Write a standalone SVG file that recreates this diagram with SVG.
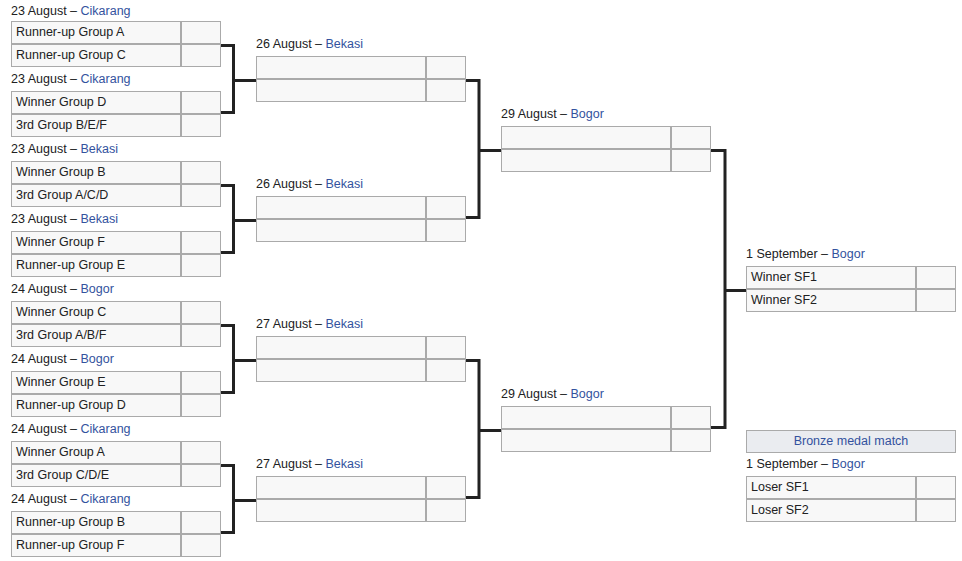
<svg xmlns="http://www.w3.org/2000/svg" width="962" height="561" viewBox="0 0 962 561">
<style>
text{font-family:"Liberation Sans",Arial,sans-serif;font-size:12.5px;fill:#202122}
.c{fill:#f8f8f8;stroke:#aaa;stroke-width:1}
.h{fill:#eaecf0;stroke:#aaa;stroke-width:1}
.a{fill:#33529e}
.cn{fill:none;stroke:#222;stroke-width:3;stroke-linejoin:miter;stroke-linecap:butt}
</style>
<rect width="962" height="561" fill="#fff"/>
<g id="connectors">
<path class="cn" d="M221,45.5H233.5V112.5H221M233.5,80.5H256"/>
<path class="cn" d="M221,185.5H233.5V252.5H221M233.5,220.5H256"/>
<path class="cn" d="M221,325.5H233.5V392.5H221M233.5,360.5H256"/>
<path class="cn" d="M221,465.5H233.5V532.5H221M233.5,500.5H256"/>
<path class="cn" d="M466,80.5H479V217.5H466M479,150.5H501"/>
<path class="cn" d="M466,360.5H479V497.5H466M479,430.5H501"/>
<path class="cn" d="M711,150.5H725V427.5H711M725,290.5H746"/>
</g>
<g id="r1m1">
<text x="11" y="14.5">23 August – <tspan class="a">Cikarang</tspan></text>
<rect class="c" x="11.5" y="21.5" width="169" height="22"/><rect class="c" x="181.5" y="21.5" width="39" height="22"/>
<rect class="c" x="11.5" y="44.5" width="169" height="22"/><rect class="c" x="181.5" y="44.5" width="39" height="22"/>
<text x="16" y="36">Runner-up Group A</text><text x="16" y="59">Runner-up Group C</text>
</g>
<g id="r1m2">
<text x="11" y="82.5">23 August – <tspan class="a">Cikarang</tspan></text>
<rect class="c" x="11.5" y="91.5" width="169" height="22"/><rect class="c" x="181.5" y="91.5" width="39" height="22"/>
<rect class="c" x="11.5" y="114.5" width="169" height="22"/><rect class="c" x="181.5" y="114.5" width="39" height="22"/>
<text x="16" y="106">Winner Group D</text><text x="16" y="129">3rd Group B/E/F</text>
</g>
<g id="r1m3">
<text x="11" y="152.5">23 August – <tspan class="a">Bekasi</tspan></text>
<rect class="c" x="11.5" y="161.5" width="169" height="22"/><rect class="c" x="181.5" y="161.5" width="39" height="22"/>
<rect class="c" x="11.5" y="184.5" width="169" height="22"/><rect class="c" x="181.5" y="184.5" width="39" height="22"/>
<text x="16" y="176">Winner Group B</text><text x="16" y="199">3rd Group A/C/D</text>
</g>
<g id="r1m4">
<text x="11" y="222.5">23 August – <tspan class="a">Bekasi</tspan></text>
<rect class="c" x="11.5" y="231.5" width="169" height="22"/><rect class="c" x="181.5" y="231.5" width="39" height="22"/>
<rect class="c" x="11.5" y="254.5" width="169" height="22"/><rect class="c" x="181.5" y="254.5" width="39" height="22"/>
<text x="16" y="246">Winner Group F</text><text x="16" y="269">Runner-up Group E</text>
</g>
<g id="r1m5">
<text x="11" y="292.5">24 August – <tspan class="a">Bogor</tspan></text>
<rect class="c" x="11.5" y="301.5" width="169" height="22"/><rect class="c" x="181.5" y="301.5" width="39" height="22"/>
<rect class="c" x="11.5" y="324.5" width="169" height="22"/><rect class="c" x="181.5" y="324.5" width="39" height="22"/>
<text x="16" y="316">Winner Group C</text><text x="16" y="339">3rd Group A/B/F</text>
</g>
<g id="r1m6">
<text x="11" y="362.5">24 August – <tspan class="a">Bogor</tspan></text>
<rect class="c" x="11.5" y="371.5" width="169" height="22"/><rect class="c" x="181.5" y="371.5" width="39" height="22"/>
<rect class="c" x="11.5" y="394.5" width="169" height="22"/><rect class="c" x="181.5" y="394.5" width="39" height="22"/>
<text x="16" y="386">Winner Group E</text><text x="16" y="409">Runner-up Group D</text>
</g>
<g id="r1m7">
<text x="11" y="432.5">24 August – <tspan class="a">Cikarang</tspan></text>
<rect class="c" x="11.5" y="441.5" width="169" height="22"/><rect class="c" x="181.5" y="441.5" width="39" height="22"/>
<rect class="c" x="11.5" y="464.5" width="169" height="22"/><rect class="c" x="181.5" y="464.5" width="39" height="22"/>
<text x="16" y="456">Winner Group A</text><text x="16" y="479">3rd Group C/D/E</text>
</g>
<g id="r1m8">
<text x="11" y="502.5">24 August – <tspan class="a">Cikarang</tspan></text>
<rect class="c" x="11.5" y="511.5" width="169" height="22"/><rect class="c" x="181.5" y="511.5" width="39" height="22"/>
<rect class="c" x="11.5" y="534.5" width="169" height="22"/><rect class="c" x="181.5" y="534.5" width="39" height="22"/>
<text x="16" y="526">Runner-up Group B</text><text x="16" y="549">Runner-up Group F</text>
</g>
<g id="r2m1">
<text x="256" y="47.5">26 August – <tspan class="a">Bekasi</tspan></text>
<rect class="c" x="256.5" y="56.5" width="169" height="22"/><rect class="c" x="426.5" y="56.5" width="39" height="22"/>
<rect class="c" x="256.5" y="79.5" width="169" height="22"/><rect class="c" x="426.5" y="79.5" width="39" height="22"/>
</g>
<g id="r2m2">
<text x="256" y="187.5">26 August – <tspan class="a">Bekasi</tspan></text>
<rect class="c" x="256.5" y="196.5" width="169" height="22"/><rect class="c" x="426.5" y="196.5" width="39" height="22"/>
<rect class="c" x="256.5" y="219.5" width="169" height="22"/><rect class="c" x="426.5" y="219.5" width="39" height="22"/>
</g>
<g id="r2m3">
<text x="256" y="327.5">27 August – <tspan class="a">Bekasi</tspan></text>
<rect class="c" x="256.5" y="336.5" width="169" height="22"/><rect class="c" x="426.5" y="336.5" width="39" height="22"/>
<rect class="c" x="256.5" y="359.5" width="169" height="22"/><rect class="c" x="426.5" y="359.5" width="39" height="22"/>
</g>
<g id="r2m4">
<text x="256" y="467.5">27 August – <tspan class="a">Bekasi</tspan></text>
<rect class="c" x="256.5" y="476.5" width="169" height="22"/><rect class="c" x="426.5" y="476.5" width="39" height="22"/>
<rect class="c" x="256.5" y="499.5" width="169" height="22"/><rect class="c" x="426.5" y="499.5" width="39" height="22"/>
</g>
<g id="sf1">
<text x="501" y="117.5">29 August – <tspan class="a">Bogor</tspan></text>
<rect class="c" x="501.5" y="126.5" width="169" height="22"/><rect class="c" x="671.5" y="126.5" width="39" height="22"/>
<rect class="c" x="501.5" y="149.5" width="169" height="22"/><rect class="c" x="671.5" y="149.5" width="39" height="22"/>
</g>
<g id="sf2">
<text x="501" y="397.5">29 August – <tspan class="a">Bogor</tspan></text>
<rect class="c" x="501.5" y="406.5" width="169" height="22"/><rect class="c" x="671.5" y="406.5" width="39" height="22"/>
<rect class="c" x="501.5" y="429.5" width="169" height="22"/><rect class="c" x="671.5" y="429.5" width="39" height="22"/>
</g>
<g id="final">
<text x="746" y="257.5">1 September – <tspan class="a">Bogor</tspan></text>
<rect class="c" x="746.5" y="266.5" width="169" height="22"/><rect class="c" x="916.5" y="266.5" width="39" height="22"/>
<rect class="c" x="746.5" y="289.5" width="169" height="22"/><rect class="c" x="916.5" y="289.5" width="39" height="22"/>
<text x="751" y="281">Winner SF1</text><text x="751" y="304">Winner SF2</text>
</g>
<g id="bronze">
<rect class="h" x="746.5" y="430.5" width="209" height="22"/>
<text x="851" y="445" text-anchor="middle" class="a">Bronze medal match</text>
<text x="746" y="467.5">1 September – <tspan class="a">Bogor</tspan></text>
<rect class="c" x="746.5" y="476.5" width="169" height="22"/><rect class="c" x="916.5" y="476.5" width="39" height="22"/>
<rect class="c" x="746.5" y="499.5" width="169" height="22"/><rect class="c" x="916.5" y="499.5" width="39" height="22"/>
<text x="751" y="491">Loser SF1</text><text x="751" y="514">Loser SF2</text>
</g>
</svg>
